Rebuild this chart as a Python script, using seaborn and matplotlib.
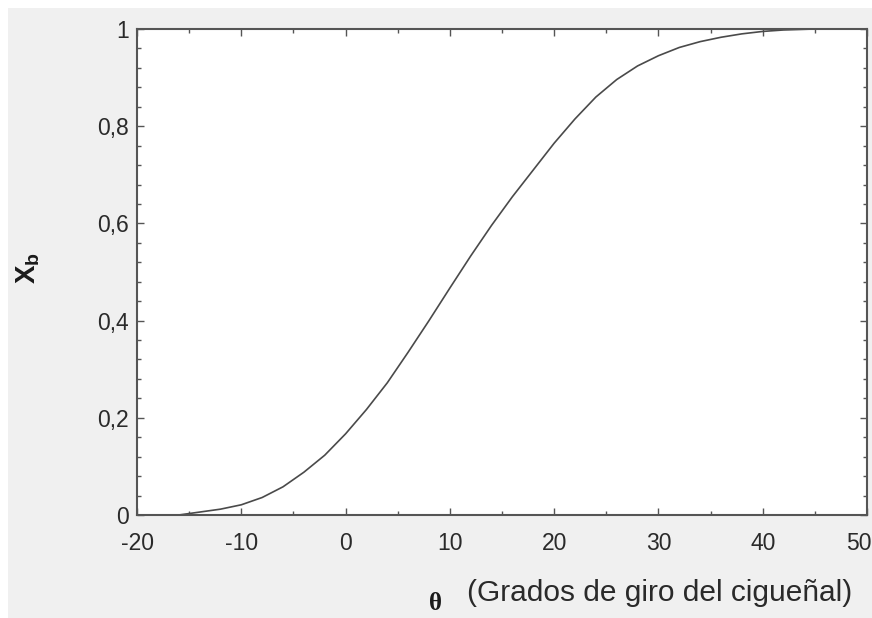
import matplotlib
matplotlib.use("Agg")
import matplotlib.pyplot as plt
import matplotlib.ticker as mticker
import matplotlib.transforms as mtransforms
from matplotlib.patches import Rectangle
import seaborn as sns
import pandas as pd

theta = [-16, -14, -12, -10, -8, -6, -4, -2, 0, 2, 4, 6, 8, 10, 12, 14, 16, 18,
         20, 22, 24, 26, 28, 30, 32, 34, 36, 38, 40, 42, 45]
xb = [0.0, 0.006, 0.012, 0.021, 0.036, 0.058, 0.088, 0.123, 0.167, 0.217, 0.272,
      0.335, 0.40, 0.467, 0.533, 0.596, 0.655, 0.71, 0.765, 0.815, 0.86, 0.896,
      0.924, 0.945, 0.962, 0.974, 0.983, 0.99, 0.995, 0.998, 1.0]
x_ticks = [-20, -10, 0, 10, 20, 30, 40, 50]
y_ticks = [0, 0.2, 0.4, 0.6, 0.8, 1.0]
y_tick_labels = ["0", "0,2", "0,4", "0,6", "0,8", "1"]

df = pd.DataFrame({"theta": theta, "xb": xb})

sns.set_style("ticks")
plt.rcParams["font.family"] = ["Liberation Sans", "DejaVu Sans"]
plt.rcParams["mathtext.fontset"] = "custom"
plt.rcParams["mathtext.rm"] = "Liberation Sans"
plt.rcParams["mathtext.bf"] = "Liberation Sans:bold"
plt.rcParams["axes.unicode_minus"] = False

W, H = 872, 618
fig = plt.figure(figsize=(W / 100, H / 100), dpi=100, facecolor="white")
fig.patches.append(Rectangle((8 / W, 0), 1, 1 - 8 / H, transform=fig.transFigure,
                             facecolor="#f0f0f0", edgecolor="none", zorder=-10))
ax = fig.add_axes([137 / W, 1 - 515 / H, (867 - 137) / W, (515 - 29) / H])
ax.set_facecolor("white")

sns.lineplot(data=df, x="theta", y="xb", ax=ax, color="#4a4a4a", linewidth=1.2)

ax.set_xlim(-20, 50)
ax.set_ylim(0, 1)
ax.set_xticks(x_ticks)
ax.set_xticklabels([str(v) for v in x_ticks])
ax.set_yticks(y_ticks)
ax.set_yticklabels(y_tick_labels)
ax.xaxis.set_minor_locator(mticker.MultipleLocator(5))
ax.yaxis.set_minor_locator(mticker.MultipleLocator(0.04))

for s in ax.spines.values():
    s.set_color("#555555")
    s.set_linewidth(1.5)

ax.tick_params(axis="both", which="major", direction="in", length=5, width=1,
               color="#555555", labelsize=16.5, labelcolor="#2a2a2a",
               top=True, right=True)
ax.tick_params(axis="both", which="minor", direction="in", length=3, width=1,
               color="#555555", top=True, right=True)
ax.tick_params(axis="x", which="major", pad=12)
ax.tick_params(axis="y", which="major", pad=6)

# keep the last x tick label inside the figure edge
last = ax.get_xticklabels()[-1]
last.set_transform(last.get_transform() +
                   mtransforms.ScaledTranslation(-8 / 100, 0, fig.dpi_scale_trans))

ax.set_xlabel("")
ax.set_ylabel("")

fig.text(28 / W, 1 - 268 / H, r"$\mathbf{X_b}$", rotation=90, fontsize=20,
         ha="center", va="center", color="#1a1a1a")
fig.text(435 / W, 1 - 603 / H, "θ", family=["Liberation Serif", "DejaVu Serif"],
         fontweight="bold", fontsize=18, ha="center", va="center", color="#1a1a1a")
fig.text(467 / W, 1 - 593 / H, "(Grados de giro del cigueñal)", fontsize=21.5,
         ha="left", va="center", color="#2a2a2a")

fig.savefig("out.png", dpi=100, facecolor=fig.get_facecolor())
